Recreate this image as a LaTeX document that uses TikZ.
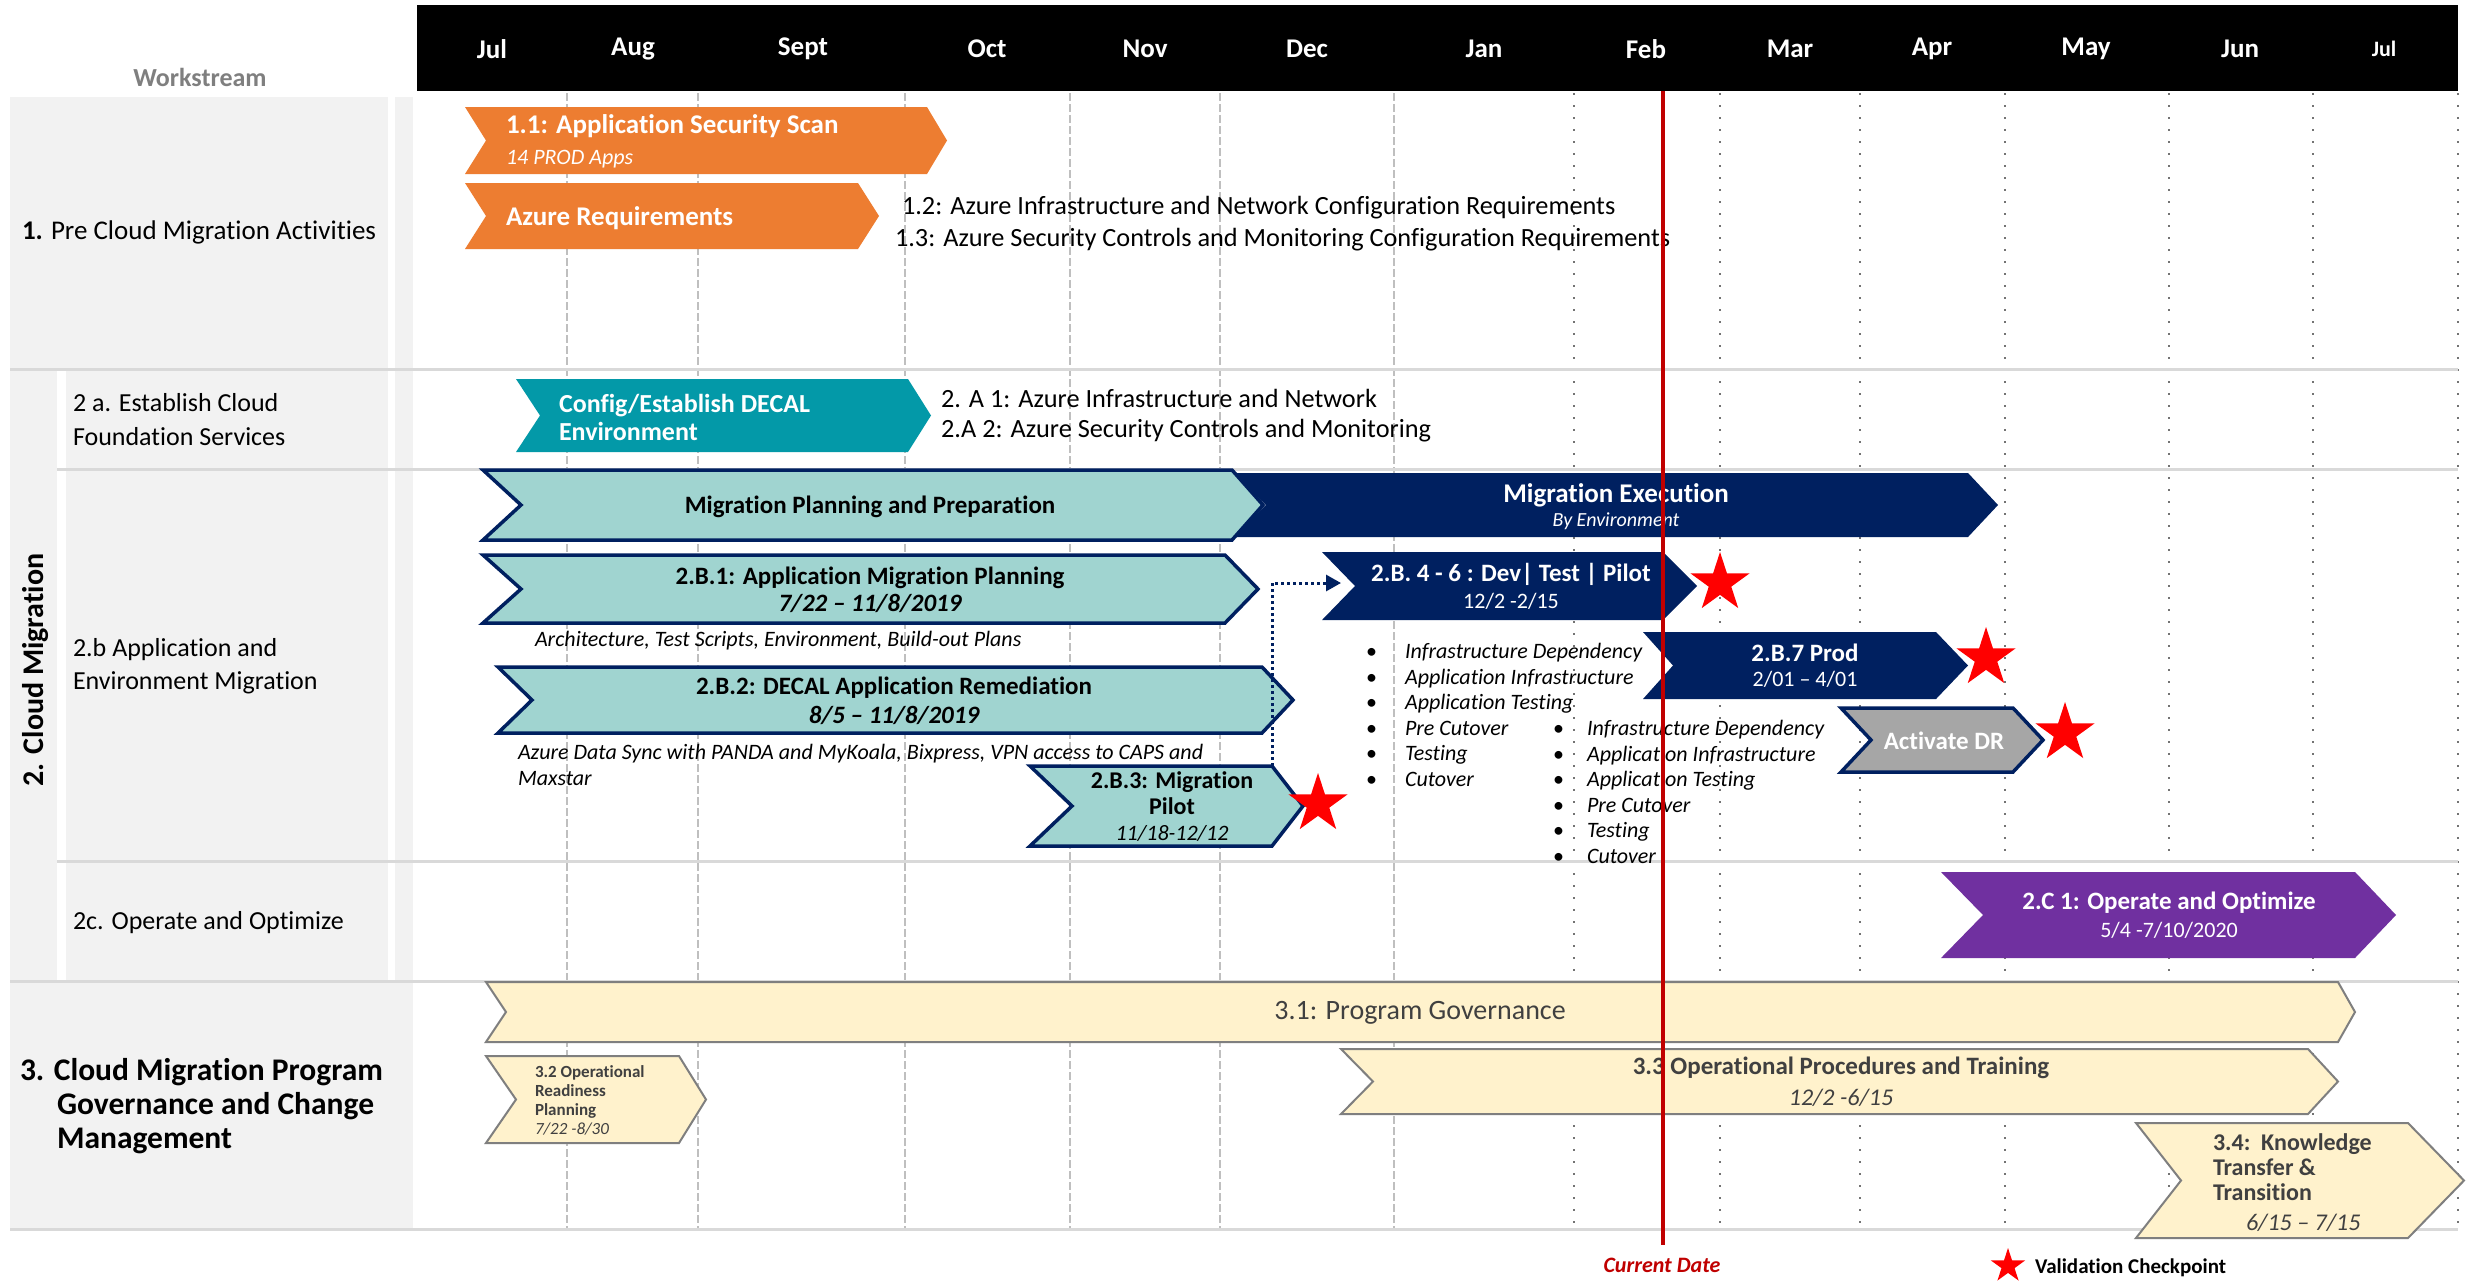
\documentclass[tikz,border=0pt]{standalone}
\usepackage{fontspec}
\setmainfont{Carlito}[Ligatures={TeX,NoCommon}]
\usetikzlibrary{arrows.meta,shapes.geometric}
\definecolor{orangeC}{HTML}{ED7D31}
\definecolor{tealC}{HTML}{0399A8}
\definecolor{ltteal}{HTML}{A0D4D0}
\definecolor{navyC}{HTML}{002060}
\definecolor{drgray}{HTML}{A6A6A6}
\definecolor{purpleC}{HTML}{7030A0}
\definecolor{ylwC}{HTML}{FFF2CC}
\definecolor{ylwline}{HTML}{7F7F7F}
\definecolor{dkgray}{HTML}{404040}
\definecolor{panelC}{HTML}{F2F2F2}
\definecolor{rowC}{HTML}{D9D9D9}
\definecolor{curred}{HTML}{C00000}
\definecolor{starred}{HTML}{FF0000}
\definecolor{wsgray}{HTML}{7F7F7F}
\newcommand\fsz[2]{\fontsize{#1}{#2}\selectfont}
% #1 style, #2 left x, #3 notch depth, #4 right corner x, #5 tip x, #6 top y, #7 bottom y
\newcommand\chevbar[7]{\path[#1] (#2,#6) -- (#4,#6) -- (#5,{(#6+#7)/2}) -- (#4,#7) -- (#2,#7) -- ({#2+#3},{(#6+#7)/2}) -- cycle;}
\tikzset{
  panel/.style={fill=panelC},
  rowline/.style={draw=rowC, line width=3pt},
  gridA/.style={draw=black!25, line width=1.2pt, dash pattern=on 8pt off 3pt},
  gridB/.style={draw=black!55, line width=1.5pt, dash pattern=on 2pt off 10pt},
  month/.style={text=white, font=\fsz{27}{30}\bfseries},
  lbl/.style={anchor=west, align=left},
  ctr/.style={anchor=center, align=center},
  orangebar/.style={fill=orangeC},
  tealbar/.style={fill=tealC},
  ltbar/.style={fill=ltteal, draw=navyC, line width=3.5pt, line join=miter},
  navybar/.style={fill=navyC},
  drbar/.style={fill=drgray, draw=navyC, line width=3.5pt, line join=miter},
  purplebar/.style={fill=purpleC},
  ylwbar/.style={fill=ylwC, draw=ylwline, line width=2pt, line join=miter},
  checkstar/.style={star, star points=5, star point ratio=2.618, fill=starred, inner sep=0pt, minimum size=62pt},
  wtitle/.style={text=white, font=\fsz{25}{27}\bfseries},
  wsub/.style={text=white, font=\fsz{22}{25}},
  btitle/.style={text=black, font=\fsz{25}{27}\bfseries},
  note/.style={text=black, font=\fsz{22}{26}\itshape},
  body/.style={text=black, font=\fsz{26.3}{30}},
  ytitle/.style={text=dkgray, font=\fsz{25}{27}\bfseries},
}
\begin{document}
\begin{tikzpicture}[x=1pt,y=-1pt, every node/.style={inner sep=0pt,outer sep=0pt}]
\useasboundingbox (0,0) rectangle (2478,1280);
\fill[white] (0,0) rectangle (2478,1280);

% left panels
\fill[panel] (10,97) rectangle (388,368);
\fill[panel] (395,97) rectangle (413,368);
\fill[panel] (10,370) rectangle (57,980);
\fill[panel] (66,370) rectangle (388,980);
\fill[panel] (395,370) rectangle (413,980);
\fill[panel] (10,982) rectangle (413,1228);

% header
\fill[black] (417,5) rectangle (2458,91);
\node[month] (mJul) at (492,49) {Jul};
\node[month] (mAug) at (633,49) {Aug};
\node[month] (mSep) at (803,49) {Sept};
\node[month] (mOct) at (987,49) {Oct};
\node[month] (mNov) at (1145,49) {Nov};
\node[month] (mDec) at (1307,49) {Dec};
\node[month] (mJan) at (1484,49) {Jan};
\node[month] (mFeb) at (1646,49) {Feb};
\node[month] (mMar) at (1790,49) {Mar};
\node[month] (mApr) at (1932,49) {Apr};
\node[month] (mMay) at (2086,49) {May};
\node[month] (mJun) at (2240,49) {Jun};
\node[month, font=\fsz{22}{26}\bfseries] (mJul2) at (2384,49) {Jul};
\node[text=wsgray, font=\fsz{26}{30}\bfseries] (ws) at (200,77) {Workstream};

% grid lines
\foreach \gx in {567,698,905,1070,1220,1394} \draw[gridA] (\gx,93) -- (\gx,1229);
\foreach \gx in {1574,1720,1860,2005,2169,2313,2458} \draw[gridB] (\gx,93) -- (\gx,1229);

% row lines
\draw[rowline] (10,369) -- (2458,369);
\draw[rowline] (57,469) -- (2458,469);
\draw[rowline] (57,861) -- (2458,861);
\draw[rowline] (10,981) -- (2458,981);
\draw[rowline] (10,1229) -- (2458,1229);

% row labels
\node[lbl, font=\fsz{27}{32}] (L1) at (22,232) {\textbf{1.} Pre Cloud Migration Activities};
\node[font=\fsz{30}{34}\bfseries, rotate=90] (L2) at (36,670) {2. Cloud Migration};
\node[lbl, font=\fsz{26}{34}] (L2a) at (73,420) {2 a. Establish Cloud\\Foundation Services};
\node[lbl, font=\fsz{26}{33}] (L2b) at (73,666) {2.b Application and\\Environment Migration};
\node[lbl, font=\fsz{26}{30}] (L2c) at (73,923) {2c. Operate and Optimize};
\node[lbl, font=\fsz{31.5}{34}\bfseries] (L3) at (20,1106) {3. Cloud Migration Program\\\hspace*{37pt}Governance and Change\\\hspace*{37pt}Management};

% section 1 bars
\chevbar{orangebar}{465}{21}{927}{947}{107}{174}
\node[lbl, text=white, font=\fsz{27}{30}\bfseries] (t11) at (506,126) {1.1: Application Security Scan};
\node[lbl, text=white, font=\fsz{22}{26}\itshape] (t11b) at (506,159) {14 PROD Apps};
\chevbar{orangebar}{465}{21}{858}{879}{183}{249}
\node[lbl, text=white, font=\fsz{27}{30}\bfseries] (tAz) at (506,218) {Azure Requirements};
\node[lbl, body] (t12) at (902,208) {1.2: Azure Infrastructure and Network Configuration Requirements};
\node[lbl, body] (t13) at (895,240) {1.3: Azure Security Controls and Monitoring Configuration Requirements};

% 2a
\chevbar{tealbar}{516}{24}{908}{931}{379}{452}
\node[lbl, text=white, font=\fsz{26}{28}\bfseries] (t2a) at (559,417) {Config/Establish DECAL\\Environment};
\node[lbl, body] (t2a1) at (941,398) {2. A 1: Azure Infrastructure and Network};
\node[lbl, body] (t2a2) at (941,431) {2.A 2: Azure Security Controls and Monitoring};

% 2b
\chevbar{navybar}{1232}{34}{1968}{1998}{473}{537}
\node[ctr, text=white, font=\fsz{27}{30}\bfseries] (tME) at (1616,495) {Migration Execution};
\node[ctr, text=white, font=\fsz{20}{24}\itshape] (tMEb) at (1616,521) {By Environment};
\chevbar{ltbar}{483}{38}{1232}{1263}{470}{540}
\node[ctr, btitle] (tMP) at (870,507) {Migration Planning and Preparation};

\chevbar{ltbar}{483}{38}{1225}{1258}{555}{623}
\node[ctr, btitle] (tB1) at (870,578) {2.B.1: Application Migration Planning};
\node[ctr, text=black, font=\fsz{25}{27}\bfseries\itshape] (tB1d) at (870,603) {7/22 – 11/8/2019};
\node[lbl, note] (nB1) at (535,641) {Architecture, Test Scripts, Environment, Build-out Plans};

\chevbar{ltbar}{498}{34}{1262}{1293}{667}{733}
\node[ctr, btitle] (tB2) at (894,688) {2.B.2: DECAL Application Remediation};
\node[ctr, text=black, font=\fsz{25}{27}\bfseries\itshape] (tB2d) at (894,715) {8/5 – 11/8/2019};
\node[lbl, note] (nB2) at (518,765) {Azure Data Sync with PANDA and MyKoala, Bixpress, VPN access to CAPS and\\Maxstar};

\chevbar{ltbar}{1030}{42}{1272}{1303}{766}{846}
\node[ctr, text=black, font=\fsz{24}{26}\bfseries] (tB3) at (1172,793) {2.B.3: Migration\\Pilot};
\node[ctr, text=black, font=\fsz{22}{25}\itshape] (tB3d) at (1172,833) {11/18-12/12};

\chevbar{navybar}{1322}{33}{1663}{1697}{552}{620}
\node[ctr, wtitle] (tB4) at (1511,574) {2.B. 4 - 6 : Dev| Test | Pilot};
\node[ctr, wsub] (tB4d) at (1511,601) {12/2 -2/15};

\coordinate (b3top) at (1272,766);
\coordinate (b4notch) at (1341,583);
\draw[navyC, line width=3pt, dash pattern=on 3pt off 3pt, -{Triangle[length=15pt,width=16pt]}] (b3top) |- (b4notch);

\node[lbl, text=black, font=\fsz{22}{25.6}] (bl1) at (1366,715)
 {\makebox[39pt][l]{\textbullet}\textit{Infrastructure Dependency}\\
  \makebox[39pt][l]{\textbullet}\textit{Application Infrastructure}\\
  \makebox[39pt][l]{\textbullet}\textit{Application Testing}\\
  \makebox[39pt][l]{\textbullet}\textit{Pre Cutover}\\
  \makebox[39pt][l]{\textbullet}\textit{Testing}\\
  \makebox[39pt][l]{\textbullet}\textit{Cutover}};

\chevbar{navybar}{1643}{30}{1936}{1968}{632}{699}
\node[ctr, wtitle] (tB7) at (1805,653) {2.B.7 Prod};
\node[ctr, wsub] (tB7d) at (1805,679) {2/01 – 4/01};

\chevbar{drbar}{1841}{30}{2013}{2043}{708}{772}
\node[ctr, wtitle] (tDR) at (1944,741) {Activate DR};

\node[lbl, text=black, font=\fsz{22}{25.6}] (bl2) at (1553,792)
 {\makebox[34pt][l]{\textbullet}\textit{Infrastructure Dependency}\\
  \makebox[34pt][l]{\textbullet}\textit{Application Infrastructure}\\
  \makebox[34pt][l]{\textbullet}\textit{Application Testing}\\
  \makebox[34pt][l]{\textbullet}\textit{Pre Cutover}\\
  \makebox[34pt][l]{\textbullet}\textit{Testing}\\
  \makebox[34pt][l]{\textbullet}\textit{Cutover}};

% stars
\node[checkstar] (s1) at (1318,804) {};
\node[checkstar] (s2) at (1720,583) {};
\node[checkstar] (s3) at (1986,658) {};
\node[checkstar] (s4) at (2065,733) {};

% 2c
\chevbar{purplebar}{1941}{42}{2355}{2396}{872}{958}
\node[ctr, wtitle] (tC1) at (2169,903) {2.C 1: Operate and Optimize};
\node[ctr, wsub] (tC1d) at (2169,930) {5/4 -7/10/2020};

% section 3
\chevbar{ylwbar}{486}{20}{2338}{2355}{982}{1042}
\node[ctr, text=dkgray, font=\fsz{28}{32}] (t31) at (1420,1013) {3.1: Program Governance};
\chevbar{ylwbar}{486}{30}{679}{706}{1056}{1143}
\node[lbl, text=dkgray, font=\fsz{17}{19}\bfseries] (t32) at (535,1100) {3.2 Operational\\Readiness\\Planning\\\textmd{\textit{7/22 -8/30}}};
\chevbar{ylwbar}{1341}{32}{2308}{2338}{1049}{1114}
\node[ctr, ytitle] (t33) at (1841,1068) {3.3 Operational Procedures and Training};
\node[ctr, text=dkgray, font=\fsz{24}{27}\itshape] (t33d) at (1841,1098) {12/2 -6/15};
\chevbar{ylwbar}{2136}{45}{2408}{2464}{1123}{1238}
\node[lbl, text=dkgray, font=\fsz{24}{25}\bfseries] (t34) at (2213,1167) {3.4:\ \ Knowledge\\Transfer \&\\Transition};
\node[lbl, text=dkgray, font=\fsz{24}{27}\itshape] (t34d) at (2246,1223) {6/15 – 7/15};

% current date
\coordinate (cdtop) at (1663,91);
\coordinate (cdbot) at (1663,1245);
\draw[curred, line width=4pt] (cdtop) -- (cdbot);
\node[ctr, text=curred, font=\fsz{22}{26}\bfseries\itshape] (cd) at (1662,1265) {Current Date};

% legend
\node[checkstar, minimum size=36pt] (legstar) at (2008,1266) {};
\node[lbl, text=black, font=\fsz{21}{25}\bfseries] (legtxt) at (2035,1268) {Validation Checkpoint};
\end{tikzpicture}
\end{document}
